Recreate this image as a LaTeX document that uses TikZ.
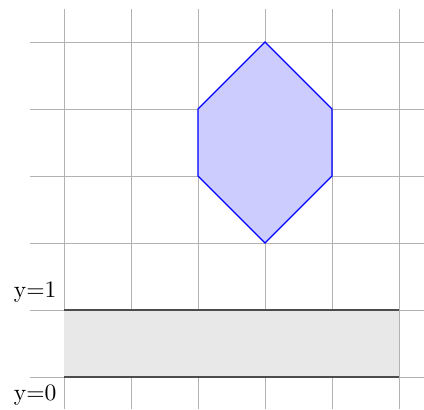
\documentclass[tikz,border=0pt]{standalone}
\begin{document}
\begin{tikzpicture}[
  gridline/.style={gray!60, line width=0.4pt},
  bandline/.style={black!70, line width=0.8pt},
  hexa/.style={draw=blue, fill=blue!20, line width=0.5pt},
  lbl/.style={inner sep=3pt}
]
\useasboundingbox (-0.955,-0.478) rectangle (5.373,5.627);
\draw[gridline] (-0.5,-0.48) grid (5.37,5.49);
\fill[gray!18] (0,0) rectangle (5,1);
\coordinate (b0l) at (0,0);
\coordinate (b0r) at (5,0);
\coordinate (b1l) at (0,1);
\coordinate (b1r) at (5,1);
\draw[bandline] (b0l) -- (b0r);
\draw[bandline] (b1l) -- (b1r);
\node[lbl, anchor=south east] (l1) at (b1l) {y=1};
\node[lbl, anchor=north east] (l0) at (b0l) {y=0};
\draw[hexa] (3,5) -- (4,4) -- (4,3) -- (3,2) -- (2,3) -- (2,4) -- cycle;
\end{tikzpicture}
\end{document}
